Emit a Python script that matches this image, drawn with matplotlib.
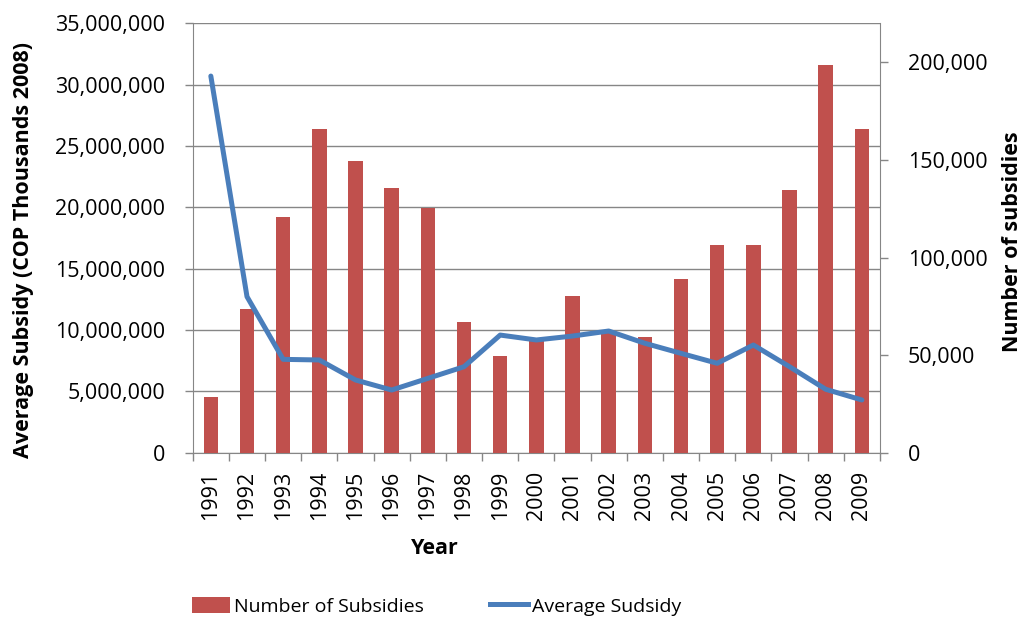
import matplotlib
matplotlib.use("Agg")
import matplotlib.pyplot as plt
from matplotlib.ticker import FuncFormatter, MultipleLocator
from matplotlib.patches import Patch
from matplotlib.lines import Line2D

plt.rcParams["font.family"] = ["Open Sans", "DejaVu Sans"]

# data
years = ["1991", "1992", "1993", "1994", "1995", "1996", "1997", "1998", "1999", "2000",
         "2001", "2002", "2003", "2004", "2005", "2006", "2007", "2008", "2009"]
number_of_subsidies = [28400, 73500, 120800, 165700, 149500, 135800, 125500, 67100, 49700, 57300,
                       80300, 62000, 59100, 89000, 106300, 106300, 134600, 198600, 165700]
average_subsidy = [30.70e6, 12.72e6, 7.61e6, 7.56e6, 5.93e6, 5.11e6, 6.06e6, 7.01e6, 9.59e6, 9.19e6,
                   9.51e6, 9.92e6, 8.92e6, 8.10e6, 7.29e6, 8.78e6, 7.01e6, 5.17e6, 4.30e6]

BAR_COLOR = "#C0504D"
LINE_COLOR = "#4A7EBB"
AXIS_GRAY = "#868686"
FS = 15.5

fig = plt.figure(figsize=(10.28, 6.2), dpi=100)
ax = fig.add_axes([0.1875, 0.2698, 0.856 - 0.1875, 0.9624 - 0.2698])
ax2 = ax.twinx()          # bars, right axis
ax3 = ax.twinx()          # line, shares the left scale
ax3.sharey(ax)

x = list(range(len(years)))

# left axis: grid + ticks
ax.set_xlim(-0.5, len(years) - 0.5)
ax.set_ylim(0, 35e6)
ax.yaxis.set_major_locator(MultipleLocator(5e6))
ax.yaxis.set_major_formatter(FuncFormatter(lambda v, p: f"{int(v):,}"))
ax.grid(axis="y", color=AXIS_GRAY, linewidth=1.0)
ax.set_axisbelow(True)
ax.tick_params(axis="y", direction="out", length=6, width=1, color=AXIS_GRAY, pad=14, labelsize=FS)

ax.set_xticks(x)
ax.set_xticklabels(years, rotation=90)
ax.set_xticks([i - 0.5 for i in range(len(years) + 1)], minor=True)
ax.tick_params(axis="x", which="major", length=0, pad=13, labelsize=FS)
ax.tick_params(axis="x", which="minor", length=6, width=1, color=AXIS_GRAY)

for s in ["left", "bottom", "right", "top"]:
    ax.spines[s].set_color(AXIS_GRAY)
ax.spines["top"].set_visible(False)

# bars on right axis
ax2.bar(x, number_of_subsidies, width=0.4, color=BAR_COLOR, zorder=2)
ax2.set_ylim(0, 220000)
ax2.yaxis.set_major_locator(MultipleLocator(50000))
ax2.yaxis.set_major_formatter(FuncFormatter(lambda v, p: f"{int(v):,}"))
ax2.tick_params(axis="y", direction="out", length=6, width=1, color=AXIS_GRAY, pad=14, labelsize=FS)
for s in ["left", "bottom", "right", "top"]:
    ax2.spines[s].set_visible(False)

# line on top
ax3.plot(x, average_subsidy, color=LINE_COLOR, linewidth=3.6, solid_capstyle="round")
ax3.axis("off")

# axis titles
fig.text(0.023, 0.597, "Average Subsidy (COP Thousands 2008)", rotation=90, ha="center", va="center",
         fontsize=FS, fontweight="bold")
fig.text(0.985, 0.61, "Number of subsidies", rotation=90, ha="center", va="center",
         fontsize=FS, fontweight="bold")
fig.text(0.423, 0.115, "Year", ha="center", va="center", fontsize=FS, fontweight="bold")

handles = [Patch(facecolor=BAR_COLOR, edgecolor="none"),
           Line2D([], [], color=LINE_COLOR, linewidth=3.6)]
fig.legend(handles, ["Number of Subsidies", "Average Sudsidy"], loc="center",
           bbox_to_anchor=(0.425, 0.022), ncol=2, frameon=False, fontsize=14,
           handlelength=1.95, handleheight=0.9, handletextpad=0.2, columnspacing=3.4)

fig.savefig("out.png", dpi=100)
